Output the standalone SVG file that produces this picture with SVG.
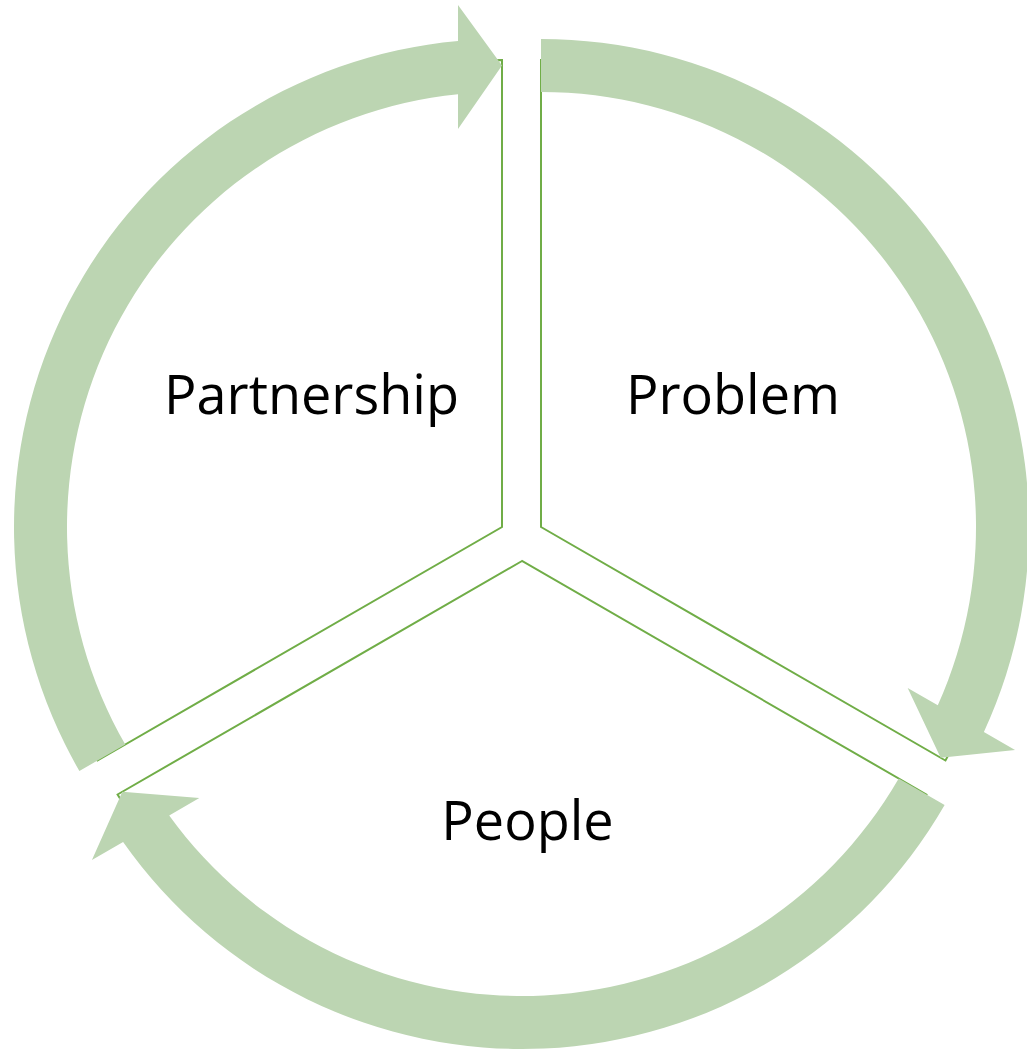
<svg xmlns="http://www.w3.org/2000/svg" xmlns:xlink="http://www.w3.org/1999/xlink" width="1027" height="1051" viewBox="0 0 1027 1051">
  <style>
    .wedge { fill: #FFFFFF; stroke: #70AD47; stroke-width: 2; stroke-linejoin: miter; }
    .arrow { fill: #BCD5B2; stroke: none; }
    .label { font-family: "Open Sans", "Noto Sans", "Liberation Sans", sans-serif; font-size: 54px; fill: #000000; text-anchor: middle; }
  </style>
  <defs>
    <path id="wedgeShape" d="M 0 0 L 0 -467 A 467 467 0 0 0 -404.43 233.5 Z"/>
    <path id="arrowShape" d="M -422.62 244 A 488 488 0 0 1 -44 -486.01 L -44 -522 L 0 -461.5 L -44 -398 L -44 -432.77 A 435 435 0 0 0 -376.72 217.5 Z"/>
  </defs>
  <rect width="1027" height="1051" fill="#FFFFFF"/>
  <g id="node-partnership">
    <use xlink:href="#wedgeShape" href="#wedgeShape" class="wedge" transform="translate(502,527)"/>
    <text class="label" x="311.5" y="414">Partnership</text>
  </g>
  <g id="node-problem">
    <use xlink:href="#wedgeShape" href="#wedgeShape" class="wedge" transform="translate(541,527) rotate(120)"/>
    <text class="label" x="733" y="414">Problem</text>
  </g>
  <g id="node-people">
    <use xlink:href="#wedgeShape" href="#wedgeShape" class="wedge" transform="translate(522,561) rotate(240)"/>
    <text class="label" x="527.5" y="840">People</text>
  </g>
  <g id="connectors">
    <use xlink:href="#arrowShape" href="#arrowShape" class="arrow" transform="translate(502,527)"/>
    <use xlink:href="#arrowShape" href="#arrowShape" class="arrow" transform="translate(541,527) rotate(120)"/>
    <use xlink:href="#arrowShape" href="#arrowShape" class="arrow" transform="translate(522,561) rotate(240)"/>
  </g>
</svg>
